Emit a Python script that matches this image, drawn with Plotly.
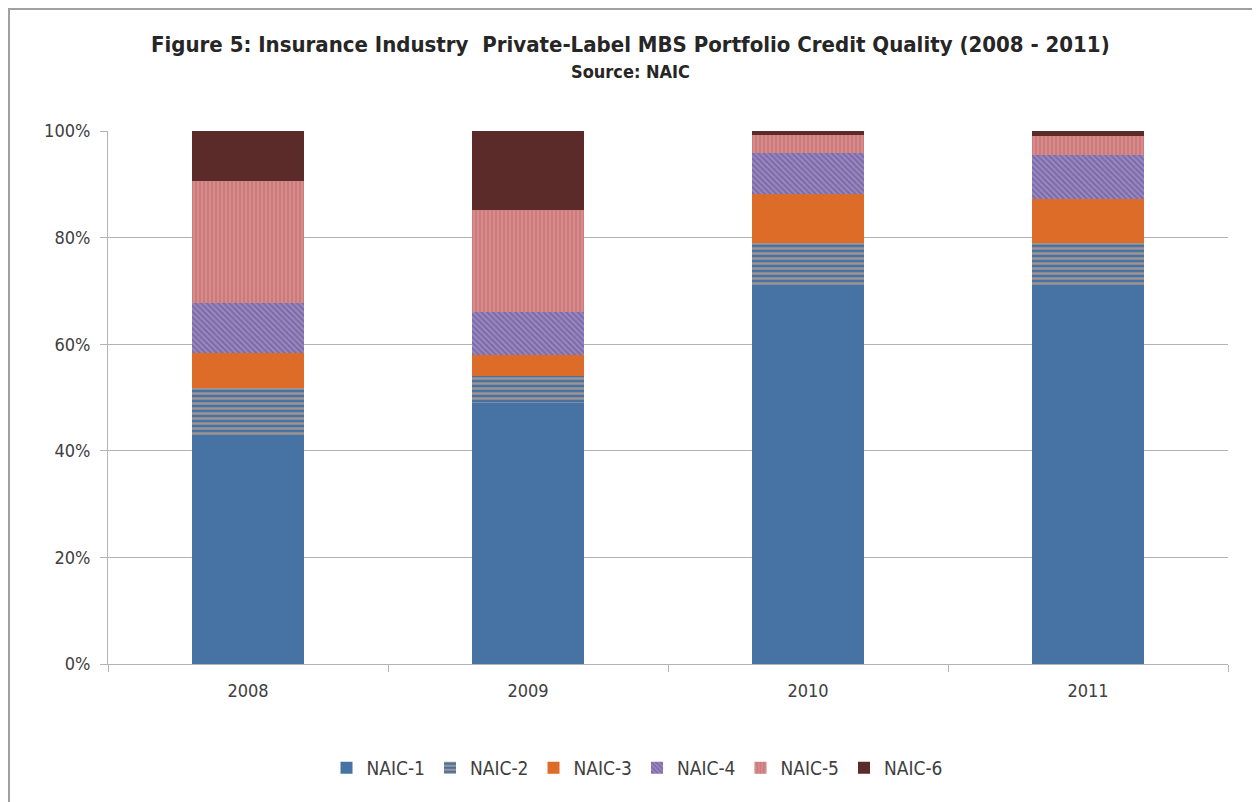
import plotly.graph_objects as go

years = ['2008', '2009', '2010', '2011']
naic_1 = [43.0, 49.0, 70.9, 70.9]
naic_2 = [8.8, 5.0, 8.1, 8.1]
naic_3 = [6.5, 4.0, 9.2, 8.2]
naic_4 = [9.4, 8.0, 7.7, 8.3]
naic_5 = [22.9, 19.2, 3.3, 3.6]
naic_6 = [9.4, 14.8, 0.8, 0.9]
y_ticks = [0, 20, 40, 60, 80, 100]
y_labels = ['0%', '20%', '40%', '60%', '80%', '100%']

font_name = 'Liberation Sans Narrow, DejaVu Sans Condensed, Open Sans, sans-serif'

series = [
    ('NAIC-1', naic_1, dict(color='#4672A4')),
    ('NAIC-2', naic_2, dict(color='#4672A4',
                            pattern=dict(shape='-', fgcolor='#F5B580', bgcolor='#4672A4',
                                         size=5, solidity=0.5))),
    ('NAIC-3', naic_3, dict(color='#DC6C27')),
    ('NAIC-4', naic_4, dict(color='#7E6AA8',
                            pattern=dict(shape='\\', fgcolor='#5C4690', bgcolor='#9A8AC0',
                                         size=4, solidity=0.5))),
    ('NAIC-5', naic_5, dict(color='#D08282',
                            pattern=dict(shape='|', fgcolor='#E6A8A8', bgcolor='#CC7A7C',
                                         size=4, solidity=0.35))),
    ('NAIC-6', naic_6, dict(color='#5A2B28')),
]

fig = go.Figure()
for name, vals, marker in series:
    fig.add_trace(go.Bar(x=years, y=vals, name=name, width=0.4,
                         marker=dict(line=dict(width=0), **marker)))

# page body adds 8px, so margins are shifted to keep the plot area in place
fig.update_layout(
    width=1260, height=802,
    barmode='stack',
    paper_bgcolor='white', plot_bgcolor='white',
    margin=dict(l=100, r=40, t=123, b=146),
    font=dict(family=font_name, size=18, color='#404040'),
    showlegend=True,
    legend=dict(orientation='h', x=(637 - 108) / 1120, xanchor='center', y=-0.195, yanchor='middle',
                font=dict(size=19, color='#404040'), traceorder='normal'),
)
fig.add_annotation(text='<b>Figure 5: Insurance Industry  Private-Label MBS Portfolio Credit Quality (2008 - 2011)</b>',
                   xref='paper', yref='paper', x=(630 - 108) / 1120, y=(664 - 45) / 533,
                   xanchor='center', yanchor='middle',
                   showarrow=False, font=dict(size=22, color='#262626'))
fig.add_annotation(text='<b>Source: NAIC</b>',
                   xref='paper', yref='paper', x=(630 - 108) / 1120, y=(664 - 72) / 533,
                   xanchor='center', yanchor='middle',
                   showarrow=False, font=dict(size=18, color='#262626'))

fig.update_yaxes(range=[0, 100], tickvals=y_ticks, ticktext=y_labels,
                 showgrid=True, gridcolor='#B3B3B3', gridwidth=1,
                 showline=True, linecolor='#B3B3B3', linewidth=1,
                 ticks='outside', ticklen=7, tickcolor='#B3B3B3',
                 zeroline=False, ticklabelstandoff=6)
fig.update_xaxes(type='category', showline=True, linecolor='#B3B3B3', linewidth=1,
                 ticks='outside', tickson='boundaries', ticklen=7, tickcolor='#B3B3B3',
                 showgrid=False, ticklabelstandoff=10)

# outer chart border (no bottom edge visible in the reference)
fig.add_shape(type='rect', xref='paper', yref='paper',
              x0=(9 - 108) / 1120, x1=(1258 - 108) / 1120,
              y0=(664 - 830) / 533, y1=(664 - 9) / 533,
              line=dict(color='#A0A0A0', width=2), fillcolor='rgba(0,0,0,0)')

fig.write_html('out.html')
